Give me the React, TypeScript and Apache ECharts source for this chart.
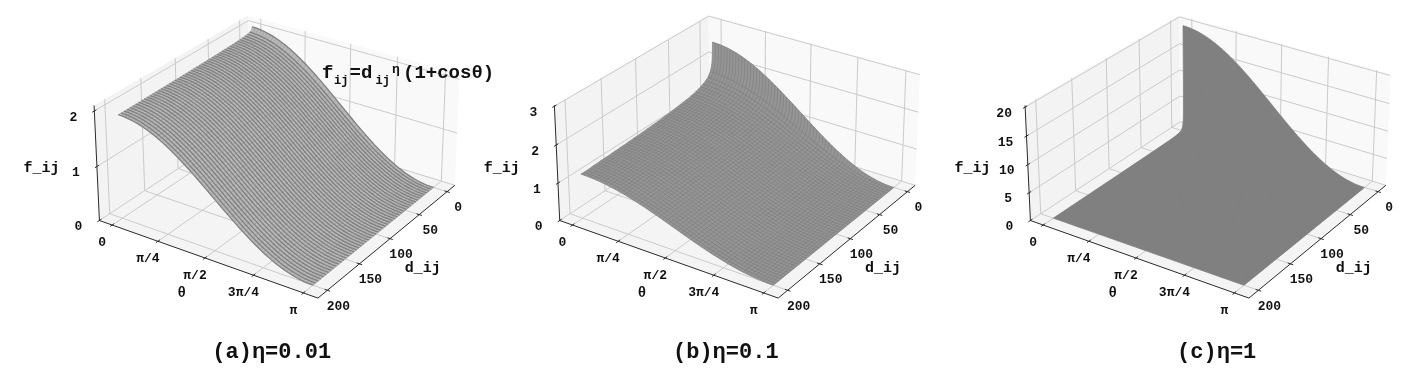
import React, { useEffect, useRef } from "react";
import * as echarts from "echarts";

// Distances along the d_ij axis at which the surface was read
const dSamples = [0.1, 0.2, 0.3, 0.5, 0.8, 1.2, 2,
  4, 8, 12, 16, 20, 24, 28, 32, 36, 40, 44, 48, 52, 56, 60, 64, 68, 72, 76, 80, 84, 88, 92, 96, 100,
  104, 108, 112, 116, 120, 124, 128, 132, 136, 140, 144, 148, 152, 156, 160, 164, 168, 172, 176, 180, 184, 188, 192, 196, 200];

// Height of the surface at theta = 0 for every entry of dSamples
const ridgeA = [2.047, 2.032, 2.024, 2.014, 2.004, 1.996, 1.986,
  1.972, 1.959, 1.951, 1.945, 1.941, 1.938, 1.935, 1.932, 1.930, 1.928, 1.926, 1.924, 1.923, 1.921, 1.920, 1.919, 1.917, 1.916, 1.915, 1.914, 1.913, 1.913, 1.912, 1.911, 1.910,
  1.909, 1.909, 1.908, 1.907, 1.907, 1.906, 1.905, 1.905, 1.904, 1.904, 1.903, 1.903, 1.902, 1.902, 1.901, 1.901, 1.900, 1.900, 1.899, 1.899, 1.898, 1.898, 1.898, 1.897, 1.897];
const ridgeB = [2.52, 2.35, 2.26, 2.14, 2.05, 1.96, 1.87,
  1.74, 1.62, 1.56, 1.52, 1.48, 1.46, 1.43, 1.41, 1.40, 1.38, 1.37, 1.36, 1.35, 1.34, 1.33, 1.32, 1.31, 1.30, 1.30, 1.29, 1.28, 1.28, 1.27, 1.27, 1.26,
  1.26, 1.25, 1.25, 1.24, 1.24, 1.24, 1.23, 1.23, 1.22, 1.22, 1.22, 1.21, 1.21, 1.21, 1.20, 1.20, 1.20, 1.20, 1.19, 1.19, 1.19, 1.18, 1.18, 1.18, 1.18];
const ridgeC = [20, 10, 6.67, 4, 2.5, 1.67, 1,
  0.5, 0.25, 0.167, 0.125, 0.1, 0.083, 0.071, 0.063, 0.056, 0.05, 0.045, 0.042, 0.038, 0.036, 0.033, 0.031, 0.029, 0.028, 0.026, 0.025, 0.024, 0.023, 0.022, 0.021, 0.02,
  0.019, 0.019, 0.018, 0.017, 0.017, 0.016, 0.016, 0.015, 0.015, 0.014, 0.014, 0.014, 0.013, 0.013, 0.013, 0.012, 0.012, 0.012, 0.011, 0.011, 0.011, 0.011, 0.01, 0.01, 0.01];

// Angles (degrees) and the share of the ridge height kept at each angle
const thetaDeg = [0, 3, 6, 9, 12, 15, 18, 21, 24, 27, 30, 33, 36, 39, 42, 45, 48, 51, 54, 57, 60, 63, 66, 69, 72, 75, 78, 81, 84, 87, 90,
  93, 96, 99, 102, 105, 108, 111, 114, 117, 120, 123, 126, 129, 132, 135, 138, 141, 144, 147, 150, 153, 156, 159, 162, 165, 168, 171, 174, 177, 180];
const thetaShare = [1, 0.9995, 0.9975, 0.994, 0.989, 0.983, 0.9755, 0.967, 0.957, 0.9455, 0.933, 0.9195, 0.9045, 0.8885, 0.8715, 0.8535, 0.8345, 0.8145, 0.794, 0.7725, 0.75, 0.727, 0.7035, 0.679, 0.6545, 0.6295, 0.604, 0.578, 0.5525, 0.526, 0.5,
  0.474, 0.4475, 0.422, 0.396, 0.3705, 0.3455, 0.321, 0.2965, 0.273, 0.25, 0.2275, 0.206, 0.1855, 0.1655, 0.1465, 0.1285, 0.1115, 0.0955, 0.0805, 0.067, 0.0545, 0.043, 0.033, 0.0245, 0.017, 0.011, 0.006, 0.0025, 0.0005, 0];

// Tick values and labels
const thetaTicks = [0, 45, 90, 135, 180];
const thetaTickLabels = ["0", "π/4", "π/2", "3π/4", "π"];
const dTicks = [0, 50, 100, 150, 200];
const zTicksA = [0, 1, 2];
const zTicksB = [0, 1, 2, 3];
const zTicksC = [0, 5, 10, 15, 20];
const captions = ["(a)η=0.01", "(b)η=0.1", "(c)η=1"];

// Axis limits
const thetaLim = [-12.8, 192.8];
const dLim = [-14.3, 214.3];

// Pane corners on screen, used to calibrate the projection: [X, Y, Z, px, py], panel-local
const paneCorners = [
  [0, 1, 0, 79.3, 220], [1, 1, 0, 298.3, 298.3], [1, 0, 0, 435, 185], [0, 0, 0, 230, 122.3],
  [0, 1, 1, 74.7, 105.7], [0, 0, 1, 228.3, 15], [1, 0, 1, 440, 74],
];

function fitCamera(corners: number[][]) {
  const rows: number[][] = [];
  const rhs: number[] = [];
  corners.forEach(([X, Y, Z, u, v]) => {
    rows.push([X, Y, Z, 1, 0, 0, 0, 0, -u * X, -u * Y, -u * Z]); rhs.push(u);
    rows.push([0, 0, 0, 0, X, Y, Z, 1, -v * X, -v * Y, -v * Z]); rhs.push(v);
  });
  const n = 11;
  const M: number[][] = [];
  for (let i = 0; i < n; i++) {
    const r: number[] = [];
    for (let j = 0; j < n; j++) r.push(rows.reduce((s, row) => s + row[i] * row[j], 0));
    r.push(rows.reduce((s, row, k) => s + row[i] * rhs[k], 0));
    M.push(r);
  }
  for (let c = 0; c < n; c++) {
    let p = c;
    for (let r = c + 1; r < n; r++) if (Math.abs(M[r][c]) > Math.abs(M[p][c])) p = r;
    [M[c], M[p]] = [M[p], M[c]];
    for (let r = 0; r < n; r++) {
      if (r === c) continue;
      const f = M[r][c] / M[c][c];
      for (let k = c; k <= n; k++) M[r][k] -= f * M[c][k];
    }
  }
  return M.map((r, i) => r[n] / r[i]);
}
const cam = fitCamera(paneCorners);
function camProject(X: number, Y: number, Z: number, ox: number): number[] {
  const w = cam[8] * X + cam[9] * Y + cam[10] * Z + 1;
  return [
    (cam[0] * X + cam[1] * Y + cam[2] * Z + cam[3]) / w + ox,
    (cam[4] * X + cam[5] * Y + cam[6] * Z + cam[7]) / w,
  ];
}

const FONT = '"Liberation Mono", monospace';
const GRID = "#cbcbcb";
const AXIS = "#2a2a2a";
const WIRE = "#808080";

type Mark = { kind: "polygon" | "polyline"; pts: number[][]; fill?: string; stroke?: string; width?: number };

function customSeries(marks: Mark[]) {
  return {
    type: "custom",
    coordinateSystem: "none",
    silent: true,
    clip: false,
    data: marks.map((_, i) => i),
    renderItem: (params: any) => {
      const m = marks[params.dataIndex];
      return {
        type: m.kind,
        shape: { points: m.pts },
        silent: true,
        style: m.kind === "polygon"
          ? { fill: m.fill, stroke: "none" }
          : { fill: "none", stroke: m.stroke, lineWidth: m.width, lineJoin: "round" },
      };
    },
  };
}

function buildPanel(ox: number, ridge: number[], zTicks: number[], zMax: number, sheet: string, thetaWireWidth: number, dWireWidth: number) {
  const nx = (t: number) => (t - thetaLim[0]) / (thetaLim[1] - thetaLim[0]);
  const ny = (d: number) => (d - dLim[0]) / (dLim[1] - dLim[0]);
  const nz = (z: number) => z / zMax;
  const P = (X: number, Y: number, Z: number) => camProject(X, Y, Z, ox);
  const S = (i: number, k: number) => P(nx(thetaDeg[i]), ny(dSamples[k]), nz(ridge[k] * thetaShare[i]));
  const marks: Mark[] = [];
  const pane = (pts: number[][], fill: string) =>
    marks.push({ kind: "polygon", pts: pts.map((p) => P(p[0], p[1], p[2])), fill });
  pane([[0, 0, 0], [1, 0, 0], [1, 1, 0], [0, 1, 0]], "#f4f4f4");
  pane([[0, 0, 0], [0, 1, 0], [0, 1, 1], [0, 0, 1]], "#f3f3f3");
  pane([[0, 0, 0], [1, 0, 0], [1, 0, 1], [0, 0, 1]], "#f9f9f9");
  const line = (a: number[], b: number[], stroke: string, width: number) =>
    marks.push({ kind: "polyline", pts: [P(a[0], a[1], a[2]), P(b[0], b[1], b[2])], stroke, width });
  thetaTicks.forEach((t) => {
    const X = nx(t);
    line([X, 1, 0], [X, 0, 0], GRID, 1);
    line([X, 0, 0], [X, 0, 1], GRID, 1);
  });
  dTicks.forEach((d) => {
    const Y = ny(d);
    line([1, Y, 0], [0, Y, 0], GRID, 1);
    line([0, Y, 0], [0, Y, 1], GRID, 1);
  });
  zTicks.forEach((z) => {
    const Z = nz(z);
    line([0, 1, Z], [0, 0, Z], GRID, 1);
    line([0, 0, Z], [1, 0, Z], GRID, 1);
  });
  // sheet under the wires, outlined by the four edges of the surface
  const last = dSamples.length - 1;
  const lastT = thetaDeg.length - 1;
  marks.push({
    kind: "polygon",
    fill: sheet,
    pts: [
      ...thetaDeg.map((_, i) => S(i, 0)),
      ...dSamples.map((_, k) => S(lastT, k)),
      ...thetaDeg.map((_, i) => S(lastT - i, last)),
      ...dSamples.map((_, k) => S(0, last - k)),
    ],
  });
  // wires of constant theta
  thetaDeg.forEach((_, i) => {
    marks.push({ kind: "polyline", pts: dSamples.map((_d, k) => S(i, k)), stroke: WIRE, width: thetaWireWidth });
  });
  // wires of constant distance
  dSamples.forEach((d, k) => {
    if (d >= 0.2 && d < 4) return;
    marks.push({ kind: "polyline", pts: thetaDeg.map((_t, i) => S(i, k)), stroke: WIRE, width: dWireWidth });
  });
  // axis lines and ticks
  line([0, 1, 0], [1, 1, 0], AXIS, 1);
  line([1, 1, 0], [1, 0, 0], AXIS, 1);
  line([0, 1, 0], [0, 1, 1], AXIS, 1);
  const T = 0.012;
  thetaTicks.forEach((t) => line([nx(t), 1 - T, 0], [nx(t), 1 + T, 0], AXIS, 1));
  dTicks.forEach((d) => line([1 - T, ny(d), 0], [1 + T, ny(d), 0], AXIS, 1));
  zTicks.forEach((z) => line([0, 1 - T, nz(z)], [0, 1 + T, nz(z)], AXIS, 1));

  const texts: any[] = [];
  const label = (text: string, x: number, y: number, size = 13, weight: any = "bold") =>
    texts.push({
      type: "text", x, y, z: 100, silent: true,
      style: { text, fill: "#111", font: `${weight} ${size}px ${FONT}`, align: "center", verticalAlign: "middle" },
    });
  thetaTicks.forEach((t, i) => {
    const p = P(nx(t), 1, 0);
    label(thetaTickLabels[i], p[0] - 10, p[1] + 17.5);
  });
  dTicks.forEach((d) => {
    const p = P(1, ny(d), 0);
    label(String(d), p[0] + 11, p[1] + 16);
  });
  zTicks.forEach((z) => {
    const p = P(0, 1, nz(z));
    label(String(z), p[0] - 21, p[1] + 6);
  });
  label("θ", ox + 162, 293, 14);
  label("d_ij", ox + 403, 268, 15);
  label("f_ij", ox + 21.7, 168, 15);
  return { series: customSeries(marks), texts };
}

function formulaTexts() {
  const part = (text: string, x: number, y: number, size: number) => ({
    type: "text", x, y, z: 100, silent: true,
    style: { text, fill: "#111", font: `bold ${size}px ${FONT}`, align: "left", verticalAlign: "middle" },
  });
  return [
    part("f", 322, 73, 19), part("ij", 334, 81, 12), part("=d", 349.5, 73, 19), part("ij", 375.5, 81, 12),
    part("η", 392, 69, 13), part("(1+cosθ)", 403, 73, 19),
  ];
}

export default function App() {
  const ref = useRef<HTMLDivElement>(null);
  useEffect(() => {
    document.body.style.margin = "0";
    const chart = echarts.init(ref.current!, undefined, { renderer: "svg" });
    const offsets = [19.7, 480, 950.7];
    const panels = [
      buildPanel(offsets[0], ridgeA, zTicksA, 2.1, "#b8b8b8", 0.35, 1.3),
      buildPanel(offsets[1], ridgeB, zTicksB, 3.02, "#959595", 0.7, 0.8),
      buildPanel(offsets[2], ridgeC, zTicksC, 20.3, "#808080", 0.8, 0.6),
    ];
    const captionX = [271.7, 725.8, 1216.7];
    const captionTexts = captions.map((text, i) => ({
      type: "text", x: captionX[i], y: 352.7, z: 100, silent: true,
      style: { text, fill: "#111", font: `bold 22px ${FONT}`, align: "center", verticalAlign: "middle" },
    }));
    chart.setOption({
      animation: false,
      backgroundColor: "#ffffff",
      series: panels.map((p) => p.series),
      graphic: { elements: [...panels.flatMap((p) => p.texts), ...formulaTexts(), ...captionTexts] },
    });
    return () => chart.dispose();
  }, []);
  return <div ref={ref} style={{ width: 1416, height: 391, filter: "blur(0.35px)" }} />;
}
